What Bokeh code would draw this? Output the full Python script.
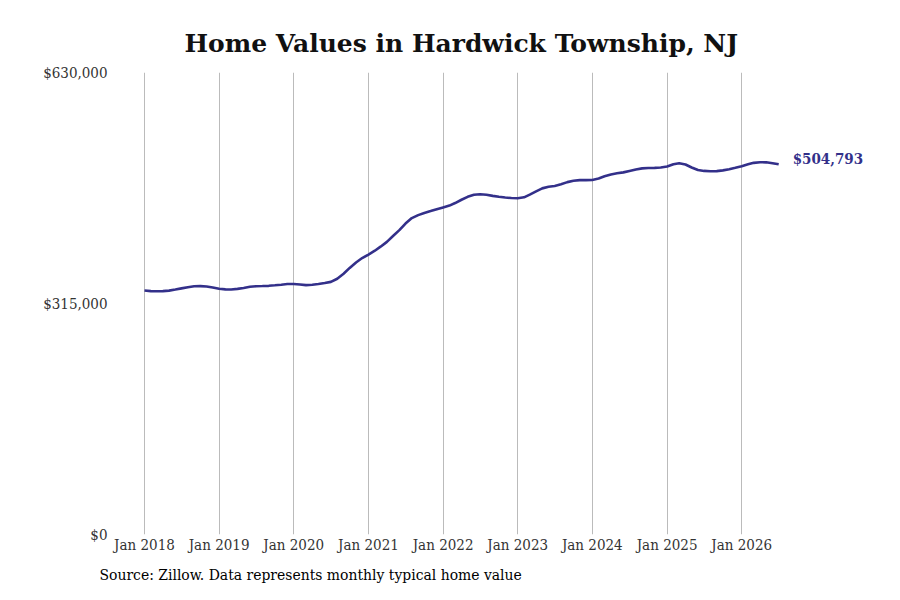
import datetime as dt
from bokeh.plotting import figure
from bokeh.models import FixedTicker, DatetimeTickFormatter, Range1d, Title
from bokeh.embed import file_html
from bokeh.resources import INLINE

# Monthly typical home values, Jan 2018 .. Jul 2026
values = [
    332700, 331900, 331700, 331900, 332600, 334000, 335600, 337200, 338500, 338700, 338200, 336800,
    335200, 334300, 334100, 334900, 336200, 337800, 338600, 338800, 339100, 339800, 340600, 341500,
    341600, 340800, 340000, 340500, 341700, 343000, 344500, 348800, 355500, 363500, 371000, 377000,
    381800, 387000, 392500, 399000, 407000, 415000, 424000, 431500, 435500, 438500, 441000, 443500,
    446000, 448500, 452000, 456500, 460500, 463200, 464000, 463300, 461800, 460500, 459500, 458800,
    458600, 459800, 463500, 468000, 472000, 474200, 475200, 477500, 480500, 482300, 483200, 483300,
    483500, 485500, 488500, 491000, 492500, 493800, 495800, 497800, 499300, 499800, 500000, 500400,
    501800, 505000, 506300, 504500, 500500, 497000, 495800, 495400, 495500, 496500, 498000, 500000,
    502200, 504800, 506800, 507700, 507500, 506300, 504793,
]
start_year, start_month = 2018, 1
tick_years = [2018, 2019, 2020, 2021, 2022, 2023, 2024, 2025, 2026]
y_ticks = [0, 315000, 630000]
y_tick_labels = {0: "$0", 315000: "$315,000", 630000: "$630,000"}
last_label = "$504,793"
title_text = "Home Values in Hardwick Township, NJ"
source_text = "Source: Zillow. Data represents monthly typical home value"

dates = []
for i in range(len(values)):
    y = start_year + (start_month - 1 + i) // 12
    m = (start_month - 1 + i) % 12 + 1
    dates.append(dt.datetime(y, m, 1))

def ms(d):
    return (d - dt.datetime(1970, 1, 1)).total_seconds() * 1000.0

DAY = 86400000.0
px_per_day = 597.2 / (dt.datetime(2026, 1, 1) - dt.datetime(2018, 1, 1)).days
x0 = ms(dt.datetime(2018, 1, 1)) - 24 / px_per_day * DAY
x1 = x0 + 760 / px_per_day * DAY

serif = "DejaVu Serif Condensed"
line_color = "#33308a"

p = figure(width=884, height=598, output_backend="svg", toolbar_location=None,
           x_axis_type="datetime", x_range=Range1d(x0, x1), y_range=Range1d(0, 630000),
           min_border_left=120, min_border_right=4, min_border_top=72, min_border_bottom=64)
p.outline_line_color = None
p.background_fill_color = "white"
p.border_fill_color = "white"

p.title.text = title_text
p.title.text_font = "DejaVu Serif"
p.title.text_font_style = "bold"
p.title.text_font_size = "25px"
p.title.align = "left"
p.title.offset = 64
p.title.text_color = "#111111"
p.title.standoff = 29

p.line(dates, values, line_color=line_color, line_width=2.6)

p.xaxis.ticker = FixedTicker(ticks=[ms(dt.datetime(y, 1, 1)) for y in tick_years])
fmt = "%b %Y"
p.xaxis.formatter = DatetimeTickFormatter(years=fmt, months=fmt, days=fmt, hours=fmt,
                                          minutes=fmt, seconds=fmt, milliseconds=fmt)
p.xaxis.axis_line_color = None
p.xaxis.major_tick_line_color = None
p.xaxis.minor_tick_line_color = None
p.xaxis.major_tick_out = 0
p.xaxis.major_tick_in = 0
p.xaxis.major_label_text_font = serif
p.xaxis.major_label_text_font_size = "15px"
p.xaxis.major_label_text_color = "#333333"
p.xaxis.major_label_standoff = 1

p.yaxis.ticker = FixedTicker(ticks=y_ticks)
p.yaxis.major_label_overrides = y_tick_labels
p.yaxis.axis_line_color = None
p.yaxis.major_tick_line_color = None
p.yaxis.minor_tick_line_color = None
p.yaxis.major_tick_out = 0
p.yaxis.major_tick_in = 0
p.yaxis.major_label_text_font = serif
p.yaxis.major_label_text_font_size = "15px"
p.yaxis.major_label_text_color = "#333333"
p.yaxis.major_label_standoff = 13

p.xgrid.grid_line_color = "#bbbbbb"
p.xgrid.grid_line_width = 1
p.ygrid.grid_line_color = None

p.text(x=[dates[-1]], y=[values[-1]], text=[last_label], text_font={"value": "DejaVu Serif Condensed"},
       text_font_style="bold", text_font_size="15px", text_color=line_color,
       text_baseline="middle", x_offset=14, y_offset=-5)

footer = Title(text=source_text, align="left", offset=-21, standoff=14,
               text_font=serif, text_font_size="15.5px", text_font_style="normal",
               text_color="#000000", text_baseline="bottom")
p.add_layout(footer, "below")

open("out.html", "w").write(file_html(p, INLINE))
